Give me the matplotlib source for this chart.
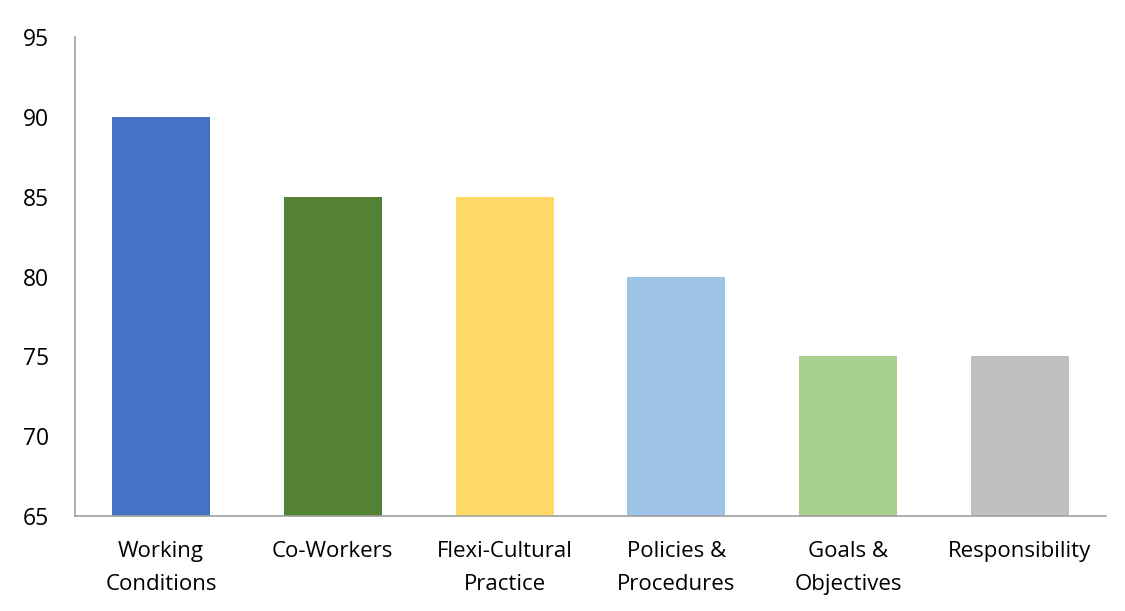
import matplotlib
matplotlib.use("Agg")
import matplotlib.pyplot as plt

# 各类别的得分
categories = ["Working\nConditions", "Co-Workers", "Flexi-Cultural\nPractice",
              "Policies &\nProcedures", "Goals &\nObjectives", "Responsibility"]
scores = [90, 85, 85, 80, 75, 75]
bar_colors = ["#4472C4", "#548235", "#FFD966", "#9DC3E6", "#A9D18E", "#BFBFBF"]
y_ticks = [65, 70, 75, 80, 85, 90, 95]

plt.rcParams['font.family'] = ['Open Sans', 'DejaVu Sans']

fig = plt.figure(figsize=(11.25, 6.11), dpi=100)
ax = fig.add_axes([0.0667, 0.1555, 0.9163, 0.7839])

x = range(len(categories))
ax.bar(x, scores, width=0.57, color=bar_colors, bottom=0)

ax.set_ylim(65, 95)
ax.set_xlim(-0.5, len(categories) - 0.5)
ax.set_yticks(y_ticks)
ax.set_xticks(list(x))
ax.set_xticklabels(categories, fontsize=16, linespacing=1.78)
ax.tick_params(axis='y', labelsize=16.5, length=0, pad=19)
ax.tick_params(axis='x', length=0, pad=18)

for s in ['top', 'right']:
    ax.spines[s].set_visible(False)
for s in ['left', 'bottom']:
    ax.spines[s].set_color('#A0A0A0')
    ax.spines[s].set_linewidth(1.2)

fig.savefig("out.png", dpi=100)
